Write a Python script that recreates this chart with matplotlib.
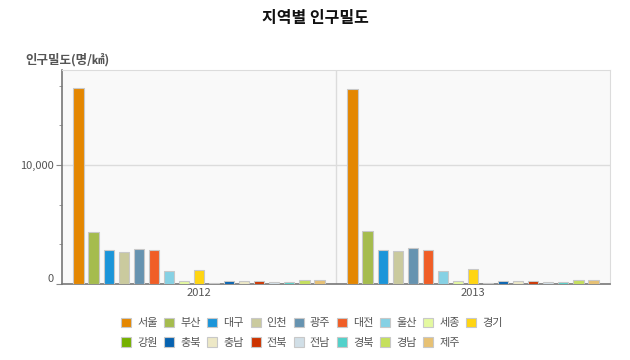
import numpy as np
import matplotlib
matplotlib.use('Agg')
import matplotlib.pyplot as plt
from matplotlib.patches import Patch
from matplotlib.ticker import FixedLocator, FuncFormatter

plt.rcParams['font.family'] = ['Noto Sans CJK KR', 'DejaVu Sans']

# 데이터 (명/㎢)
years = ['2012', '2013']
regions = ['서울', '부산', '대구', '인천', '광주', '대전', '울산', '세종', '경기',
           '강원', '충북', '충남', '전북', '전남', '경북', '경남', '제주']
density_2012 = [16500, 4400, 2830, 2690, 2970, 2830, 1090, 250, 1180,
                60, 220, 250, 220, 140, 140, 330, 330]
density_2013 = [16360, 4420, 2830, 2750, 3000, 2830, 1090, 250, 1230,
                60, 220, 250, 220, 140, 140, 330, 330]
colors = ['#E48701', '#A5BC4E', '#1B95D9', '#CACA9E', '#6693B0', '#F05E27',
          '#86D1E4', '#E4F9A0', '#FFD512', '#75B000', '#0662B0', '#EDE8C6',
          '#CC3300', '#D1DFE7', '#52D1CA', '#C5E05D', '#E7C174']

values = np.array([density_2012, density_2013])

fig = plt.figure(figsize=(6.3, 3.6), dpi=100)
ax = fig.add_axes([62/630, 1-284/360, 548/630, 214/360])
ax.set_facecolor('#f9f9f9')

n = len(regions)
slot = 0.055
width = 0.037
x = np.arange(len(years))
for i in range(n):
    pos = x + (i - (n - 1) / 2) * slot
    ax.bar(pos, values[:, i], width=width, color=colors[i],
           edgecolor='#c8c8c8', linewidth=0.8, zorder=3)

ax.set_xlim(-0.5, 1.5)
ax.set_ylim(0, 18000)
ax.set_xticks(x)
ax.set_xticklabels(years)
ax.yaxis.set_major_locator(FixedLocator([0, 10000]))
ax.yaxis.set_minor_locator(FixedLocator([3333, 6667, 13333, 16667]))
ax.yaxis.set_major_formatter(FuncFormatter(lambda v, p: f'{int(v):,}'))
ax.axhline(10000, color='#dcdcdc', lw=1, zorder=1)
ax.axvline(0.5, color='#dcdcdc', lw=1, zorder=1)

ax.tick_params(axis='y', which='major', length=4, color='#888888',
               labelsize=8, labelcolor='#555555', pad=2)
ax.tick_params(axis='y', which='minor', length=2, color='#888888')
ax.tick_params(axis='x', length=0, labelsize=8, labelcolor='#555555', pad=3)
for lab in ax.get_yticklabels():
    if lab.get_text() == '0':
        lab.set_verticalalignment('bottom')

for s in ['top', 'right']:
    ax.spines[s].set_color('#dcdcdc')
for s in ['left', 'bottom']:
    ax.spines[s].set_color('#777777')
    ax.spines[s].set_linewidth(1.2)

fig.text(0.5, 1-18.5/360, '지역별 인구밀도', ha='center', va='center',
         fontsize=11.5, fontweight='bold', color='#111111')
fig.text(25/630, 1-60/360, '인구밀도(명/㎢)', ha='left', va='center',
         fontsize=9, fontweight='bold', color='#555555')

handles = [Patch(facecolor=c, edgecolor='#c8c8c8', linewidth=0.8) for c in colors]
order = []
for k in range(9):
    order.append(k)
    if k + 9 < n:
        order.append(k + 9)
fig.legend([handles[k] for k in order], [regions[k] for k in order],
           ncol=9, loc='upper left', bbox_to_anchor=(121/630, 1-318/360),
           frameon=False, fontsize=8, handlelength=0.9, handleheight=0.9,
           handletextpad=0.54, columnspacing=0.6, labelspacing=0.8,
           labelcolor='#555555', borderaxespad=0, borderpad=0)

fig.savefig('out.png', dpi=100)
